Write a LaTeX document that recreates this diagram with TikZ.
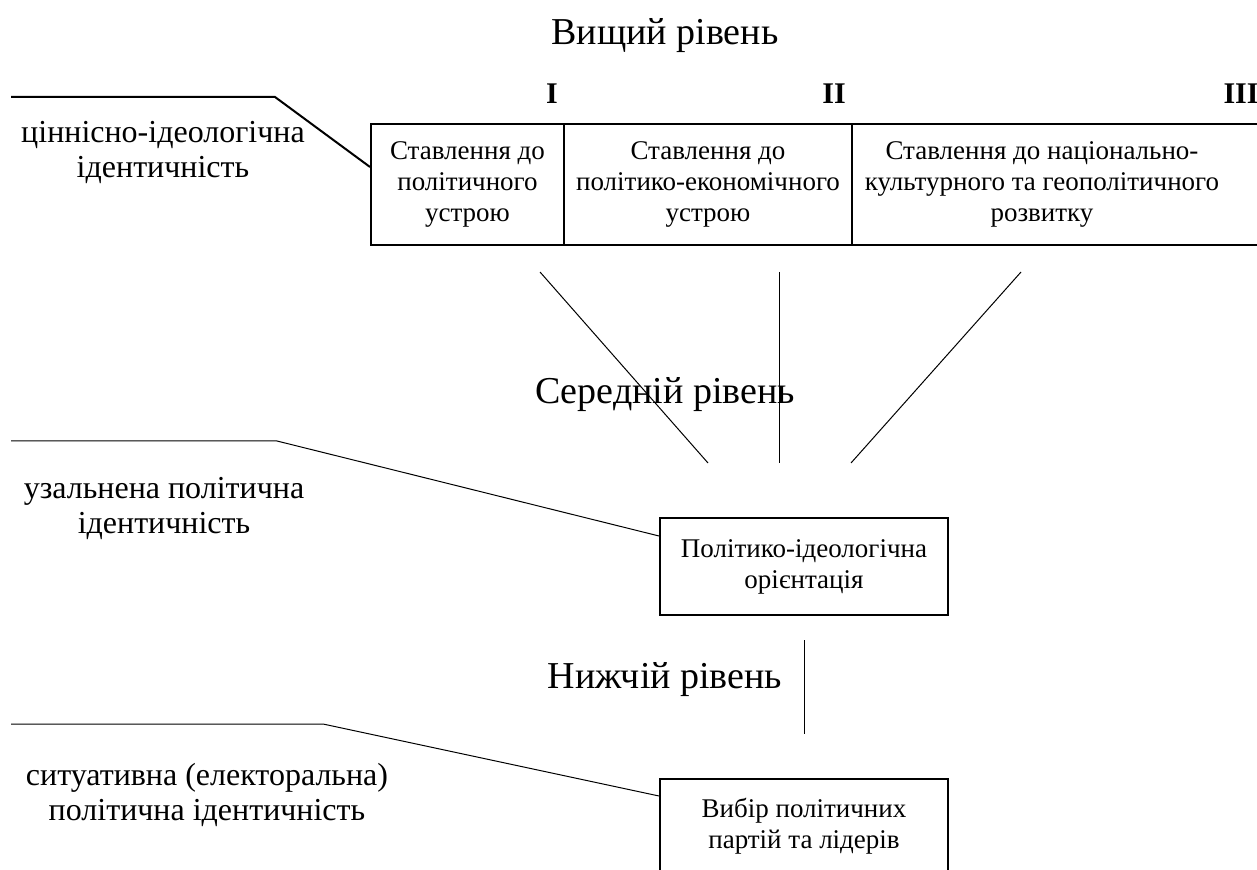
\documentclass[tikz,border=0pt]{standalone}
\usepackage{fontspec}
\setmainfont{LiberationSerif-Regular.ttf}[BoldFont=LiberationSerif-Bold.ttf]
\usetikzlibrary{positioning}

\begin{document}
\begin{tikzpicture}[x=0.5pt, y=-0.5pt,
		cell/.style={draw, rectangle, line width=1pt, inner sep=0pt,
			minimum height=60.5pt, align=center,
			font=\fontsize{13.5}{15.5}\selectfont},
		level/.style={anchor=base, font=\fontsize{19}{22}\selectfont},
		numeral/.style={anchor=base, font=\fontsize{15}{18}\selectfont\bfseries},
		ident/.style={align=center, font=\fontsize{16}{17.5}\selectfont},
		link/.style={draw, line width=0.5pt},
		tie/.style={draw, line width=1pt}]
		\useasboundingbox (0,0) rectangle (1257,870);
		\clip (0,0) rectangle (1257,870);
		%% Levels
		\node [level] (high) at (665,45) {Вищий рівень};
		\node [level] (middle) at (665,404) {Середній рівень};
		\node [level] (low) at (665,688) {Нижчій рівень};
		\node [numeral] (n1) at (552,104) {I};
		\node [numeral] (n2) at (834,104) {II};
		\node [numeral] (n3) at (1241,104) {III};
		%% Boxes
		\node [cell, minimum width=96.5pt] (polit) at (467.5,184.5) {Ставлення до\\політичного\\устрою};
		\node [cell, minimum width=144pt] (econ) at (708,184.5) {Ставлення до\\політико-економічного\\устрою};
		\node [cell, minimum width=219pt] (geo) at (1071,184.5) {};
		\node [cell, draw=none] (geotext) at (1042,184.5) {Ставлення до національно-\\культурного та геополітичного\\розвитку};
		\node [cell, minimum width=144pt, minimum height=48.5pt] (orient) at (804,566.5) {Політико-ідеологічна\\орієнтація};
		\node [cell, minimum width=144pt, minimum height=47pt] (choice) at (804,826) {Вибір політичних\\партій та лідерів};
		%% Identities
		\node [ident] (valueid) at (163,152.5) {ціннісно-ідеологічна\\ідентичність};
		\node [ident] (generid) at (164,508.5) {узальнена політична\\ідентичність};
		\node [ident] (situid) at (207,794.5) {ситуативна (електоральна)\\політична ідентичність};
		\coordinate (v0) at (11,97);
		\coordinate (v1) at (275,97);
		\coordinate (g0) at (11,441);
		\coordinate (g1) at (277,441);
		\coordinate (s0) at (11,724);
		\coordinate (s1) at (323,724);
		\coordinate (c1a) at (540,272);
		\coordinate (c1b) at (708,463);
		\coordinate (c2a) at (779,272);
		\coordinate (c2b) at (779,463);
		\coordinate (c3a) at (1021,272);
		\coordinate (c3b) at (851,463);
		%% Links
		\path [tie] (v0) -- (v1) -- ([yshift=-22pt]polit.north west);
		\path [link] (g0) -- (g1) -- ([yshift=-9.5pt]orient.north west);
		\path [link] (s0) -- (s1) -- ([yshift=-9pt]choice.north west);
		\path [link] (c1a) -- (c1b);
		\path [link] (c2a) -- (c2b);
		\path [link] (c3a) -- (c3b);
		\path [link, shorten <=12pt, shorten >=22pt] (orient) -- (choice);
\end{tikzpicture}
\end{document}
